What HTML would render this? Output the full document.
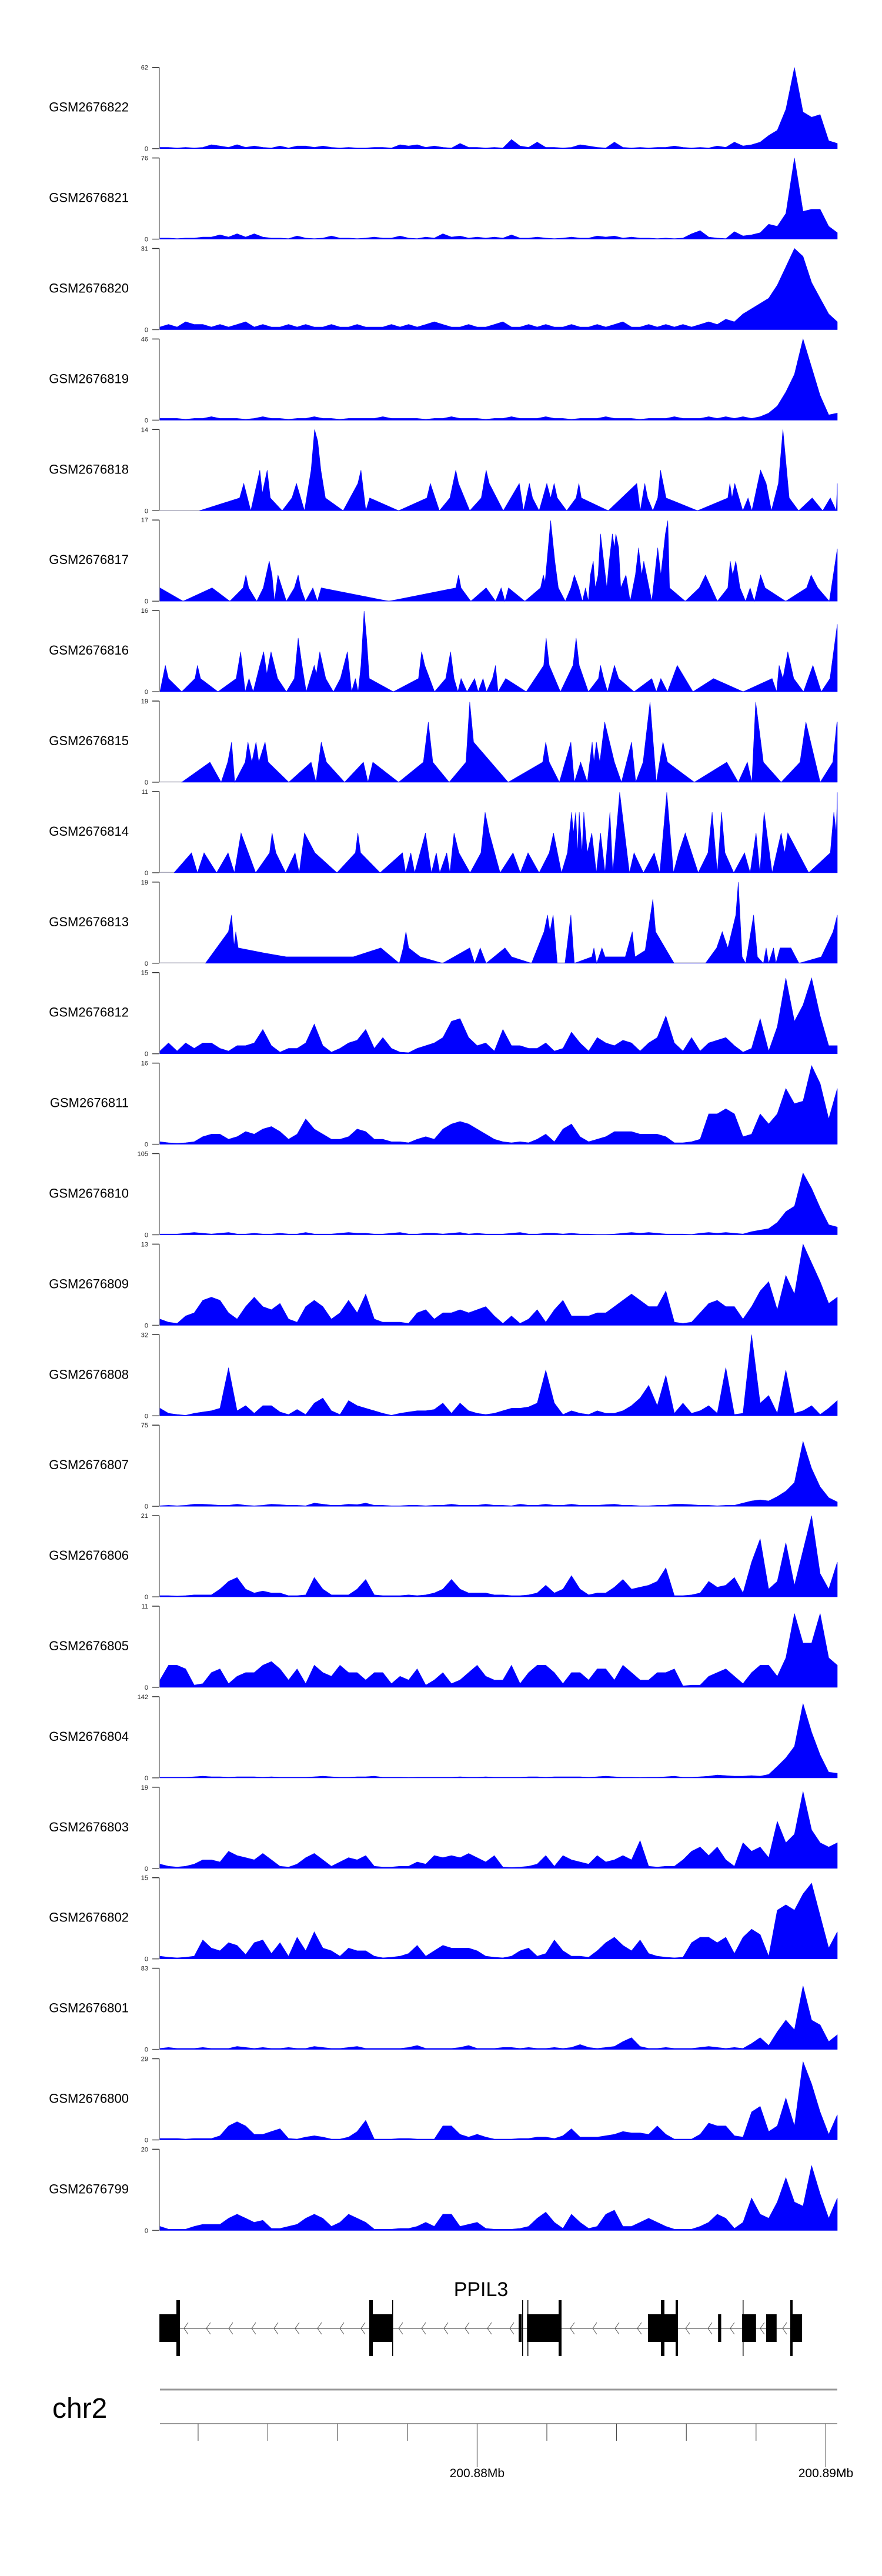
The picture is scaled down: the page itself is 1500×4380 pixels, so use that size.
<!DOCTYPE html>
<html><head><meta charset="utf-8"><title>Coverage tracks PPIL3</title>
<style>
html,body{margin:0;padding:0;background:#fff;}
svg{display:block;font-family:"Liberation Sans",Arial,sans-serif;}
</style></head>
<body>
<svg id="chart" width="1500" height="4380" viewBox="0 0 1500 4380" xmlns="http://www.w3.org/2000/svg">
<g id="tracks"></g>
<g id="gene">
  <text x="818" y="3904" font-size="34" text-anchor="middle" fill="#000">PPIL3</text>
</g>
<g id="axis">
  <text x="89" y="4111" font-size="48" fill="#000">chr2</text>
</g>
</svg>
<script>
// ---- categories / tick labels ----
const trackNames = ["GSM2676822","GSM2676821","GSM2676820","GSM2676819","GSM2676818","GSM2676817","GSM2676816","GSM2676815","GSM2676814","GSM2676813","GSM2676812","GSM2676811","GSM2676810","GSM2676809","GSM2676808","GSM2676807","GSM2676806","GSM2676805","GSM2676804","GSM2676803","GSM2676802","GSM2676801","GSM2676800","GSM2676799"];
const trackMax = [62,76,31,46,14,17,16,19,11,19,15,16,105,13,32,75,21,11,142,19,15,83,29,20];
const windowKb = [0.905, 20.33]; // kb relative to chr2:200,870,000
const axisTickKb = [2,4,6,8,10,12,14,16,18,20];
const axisLabelKb = [10,20];
const axisLabels = ["200.88Mb","200.89Mb"];

// ---- dense series (regular grid of 80 bins) ----
const v822 = [1,1,0.5,1,0.5,1,3,2,1,3,1,2,1,0.5,2,0.5,2,2,1,2,1,0.5,1,0.5,0.5,1,1,0.5,3,2,3,1,2,1,0.5,4,1,1,0.5,1,0.5,7,2,1,5,1,1,0.5,1,3,2,1,0.5,5,1,0.5,1,0.5,1,1,2,1,0.5,1,0.5,2,1,5,2,3,5,10,14,30,62,28,24,26,6,4];
const v821 = [1,1,0.5,1,1,2,2,4,2,5,2,5,2,1,1,0.5,3,1,0.5,1,3,1,1,0.5,1,2,1,1,3,1,0.5,2,1,5,2,3,1,2,1,2,1,4,1,1,2,1,0.5,1,2,1,1,3,2,3,1,2,1,1,0.5,1,0.5,1,5,8,2,1,0.5,7,3,4,6,14,12,24,76,26,28,28,12,6];
const v820 = [1,2,1,3,2,2,1,2,1,2,3,1,2,1,1,2,1,2,1,1,2,1,1,2,1,1,1,2,1,2,1,2,3,2,1,1,2,1,1,2,3,1,1,2,1,2,1,1,2,1,1,2,1,2,3,1,1,2,1,2,1,2,1,2,3,2,4,3,6,8,10,12,17,24,31,28,18,12,6,3];
const v819 = [1,1,1,0.5,1,1,2,1,1,1,0.5,1,2,1,1,0.5,1,1,2,1,1,0.5,1,1,1,1,2,1,1,1,1,0.5,1,1,2,1,1,1,0.5,1,1,2,1,1,1,2,1,1,0.5,1,1,1,2,1,1,1,0.5,1,1,1,2,1,1,1,2,1,2,1,2,1,2,4,8,16,26,46,30,14,3,4];
const v812 = [0.5,2,0.5,2,1,2,2,1,0.5,1.5,1.5,2,4.5,1.5,0.3,1,1,2,5.5,1.5,0.3,1,2,2.5,4.5,1,3,1,0.3,0.2,1,1.5,2,3,6,6.5,3,1.5,2,0.5,4.5,1.5,1.5,1,1,2,0.5,1,4,2,0.5,3,2,1.5,2.5,2,0.5,2,3,7,2,0.5,3,0.5,2,2.5,3,1.5,0.3,1,6.5,0.5,5,14,6,9,14,7,1.5,1.5];
const v811 = [0.5,0.3,0.2,0.3,0.5,1.5,2,2,1,1.5,2.5,2,3,3.5,2.5,1,2,5,3,2,1,1,1.5,3,2.5,1,1,0.5,0.5,0.3,1,1.5,1,3,4,4.5,4,3,2,1,0.5,0.3,0.5,0.3,1,2,0.5,3,4,1.5,0.5,1,1.5,2.5,2.5,2.5,2,2,2,1.5,0.3,0.3,0.5,1,6,6,7,6,1.5,2,6,4,6,11,8,8.5,15.5,12,5,11];
const v810 = [1,1,1,2,3,2,1,2,3,1,1,2,1,1,2,1,1,3,1,1,1,2,3,2,2,1,1,2,3,1,1,2,2,1,2,3,1,2,1,1,1,2,3,1,1,2,2,1,2,1,1,0.5,0.5,1,2,3,2,3,2,1,1,1,0.5,2,3,2,3,2,1,4,6,8,16,30,37,80,60,35,13,10];
const v809 = [1,0.5,0.3,1.5,2,4,4.5,4,2,1,3,4.5,3,2.5,3.5,1,0.5,3,4,3,1,2,4,2,5,1,0.5,0.5,0.5,0.3,2,2.5,1,2,2,2.5,2,2.5,3,1.5,0.3,1.5,0.3,1,2.5,0.5,2.5,4,1.5,1.5,1.5,2,2,3,4,5,4,3,3,5.5,0.5,0.3,0.5,2,3.5,4,3,3,1,3,5.5,7,2.5,8,5,13,10,7,3.5,4.5];
const v808 = [3,1,0.5,0.2,1,1.5,2,3,19,2,4,1,4,4,1.5,0.5,2.5,0.5,5,7,2,0.5,6,4,3,2,1,0.2,1,1.5,2,2,2.5,5,1,5,2,1,0.5,1,2,3,3,3.5,5,18,5,0.5,2,1,0.5,2,1,1,2,4,7,12,4,16,1,5,1,2,4,1,19,0.5,1,32,5,8,1,18,1,2,4,0.5,3,6];
const v807 = [0.5,1,0.5,1,2,2,1.5,1,1,2,1,0.5,1,2,1.5,1,1,0.5,3,2,1,1,2,1.5,3,1,1,0.5,0.5,1,1,0.5,1,1,2,1,1,1,2,1,1,0.5,2,1,1,2,1,1,2,1,1,1,1.5,2,1,1,0.5,0.5,1,1,2,2,1.5,1,1,0.5,1,1,3,5,6,5,9,14,22,60,35,18,8,4];
const v806 = [0.3,0.3,0.2,0.3,0.5,0.5,0.5,2,4,5,2,1,1.5,1,1,0.3,0.3,0.5,5,2,0.5,0.5,0.5,2,4.5,0.5,0.3,0.3,0.3,0.5,0.3,0.5,1,2,4.5,2,1,1,1,0.5,0.5,0.3,0.3,0.5,1,3,1,2,5.5,2,0.5,1,1,2.5,4.5,2,2.5,3,4,7.5,0.3,0.3,0.5,1,4,2.5,3,5,1,9,15,2,4,14,3,12,21,6,2,9];
const v805 = [1,3,3,2.5,0.3,0.5,2,2.5,0.5,1.5,2,2,3,3.5,2.5,1,2.5,0.5,3,2,1.5,3,2,2,1,2,2,0.5,1.5,1,2.5,0.3,1,2,0.5,1,2,3,1.5,1,1,3,0.5,2,3,3,2,0.5,2,2,1,2.5,2.5,1,3,2,1,1,2,2,2.5,0.2,0.3,0.3,1.5,2,2.5,1.5,0.5,2,3,3,1.5,4,10,6,6,10,4,3];
const v804 = [1,1,1,1,2,3,2,2,1,2,2,2,1,2,1,1,1,1,2,3,2,1,1,2,2,3,1,1,1,0.5,1,1,1,1,1,2,1,1,2,1,1,1,1,2,2,1,2,2,2,2,1,2,3,2,1,1,0.5,1,1,2,3,1,1,2,3,5,4,3,3,4,3,6,20,35,55,130,80,40,10,8];
const v803 = [1,0.5,0.3,0.5,1,2,2,1.5,4,3,2.5,2,3.5,2,0.5,0.3,1,2.5,3.5,2,0.5,1.5,2.5,2,3,0.5,0.3,0.3,0.5,0.5,1.5,1,3,2.5,3,2.5,3.5,2.5,1.5,3,0.3,0.2,0.3,0.5,1,3,0.5,3,2,1.5,1,3,1.5,2,3,2,6.5,0.5,0.3,0.5,0.5,2,4,5,3,5,2,0.5,6,4,5,2.5,11,6,8,18,9,6,5,6];
const v802 = [0.5,0.3,0.2,0.3,0.5,3.5,2,1.5,3,2.5,0.8,3,3.5,1,3,0.5,4,1.5,5,2,1.5,0.5,2,1.5,1.5,0.5,0.2,0.3,0.5,1,2.5,0.5,1.5,2.5,2,2,2,1.5,0.5,0.3,0.2,0.5,1.5,2,0.5,1,3.5,1.5,0.5,0.5,0.3,1.5,3,4,2.5,1.5,3.5,1,0.5,0.3,0.2,0.3,3,4,4,3,4,1,4,5.5,4.5,0.5,9,10,9,12,14,8,2,5];
const v801 = [1,2,1,1,1,2,1,1,1,3,2,1,2,1,1,2,1,1,3,2,1,1,2,3,1,1,1,1,1,2,4,1,1,1,1,2,4,1,1,1,2,2,1,2,1,1,2,1,2,5,2,1,2,3,8,12,3,1,1,2,1,1,1,2,3,2,1,2,1,6,12,4,18,30,20,65,30,25,8,15];
const v800 = [0.5,0.5,0.5,0.3,0.5,0.5,0.5,1.5,5,6.5,5,2,2,3,4,0.5,0.3,1,1.5,1,0.3,0.3,1,3,7,0.3,0.3,0.3,0.5,0.5,0.3,0.3,0.3,5,5,2,1,2,1,0.3,0.3,0.3,0.5,0.5,1,1,0.5,1.5,4,1,1,1,1.5,2,3,2.5,2.5,2,5,2,0.3,0.3,0.3,2,6,5,5,1.5,1,10,12,3,5,15,5,28,20,10,2,9];
const v799 = [1,0.3,0.3,0.3,1,1.5,1.5,1.5,3,4,3,2,2.5,0.5,0.5,1,1.5,3,4,3,1,2,4,3,2,0.3,0.3,0.3,0.5,0.5,1,2,1,4,4,1,1.5,2,0.5,0.3,0.3,0.3,0.5,1,3,4.5,2,0.5,4,2,0.5,1,4,5,1,1,2,3,2,1,0.3,0.3,0.3,1,2,4,3,0.5,2,8,4,3,7,13,7,6,16,9,3,8];

// ---- sparse series (genomic position in kb, value) ----
const p818 = [2.04,3.19,3.31,3.51,3.77,3.84,3.98,4.07,4.41,4.69,4.82,5.05,5.24,5.34,5.43,5.52,5.65,6.16,6.58,6.67,6.81,6.92,7.75,8.56,8.66,8.92,9.22,9.39,9.47,9.79,10.12,10.26,10.35,10.75,11.21,11.33,11.50,11.59,11.78,12.0,12.11,12.21,12.30,12.57,12.84,12.92,12.99,13.76,14.58,14.68,14.81,14.89,15.04,15.18,15.26,15.42,16.32,17.19,17.25,17.31,17.39,17.62,17.77,17.88,18.13,18.29,18.44,18.64,18.77,18.95,19.22,19.61,19.91,20.13,20.30,20.33];
const v818 = [0,2.2,4.7,0,7,3,7,2.2,0,2.2,4.7,0,7,14,12,7,2.2,0,4.7,7,0,2.2,0,2.2,4.7,0,2.2,7,4.7,0,2.2,7,4.7,0,4.7,0,4.7,2.2,0,4.7,2.2,4.7,2.2,0,2.2,4.7,2.2,0,4.7,0,4.7,2.2,0,2.2,7,2.2,0,2.2,4.7,2.2,4.7,0,2.2,0,7,4.7,0,4.7,14,2.2,0,2.2,0,2.2,0,4.7];
const p817 = [0.905,1.57,2.40,2.91,3.29,3.37,3.45,3.68,3.87,4.04,4.12,4.19,4.29,4.53,4.76,4.87,4.94,5.08,5.29,5.42,5.53,7.47,9.39,9.47,9.54,9.82,10.26,10.53,10.69,10.80,10.90,11.37,11.82,11.90,11.95,12.11,12.23,12.33,12.53,12.69,12.79,12.92,13.02,13.11,13.19,13.25,13.33,13.39,13.47,13.54,13.63,13.72,13.79,13.88,13.94,13.98,14.06,14.12,14.27,14.39,14.54,14.63,14.72,14.78,15.01,15.18,15.27,15.40,15.47,15.52,15.97,16.37,16.55,16.89,17.19,17.26,17.33,17.42,17.54,17.70,17.83,17.95,18.13,18.26,18.85,19.45,19.58,19.77,20.10,20.33];
const v817 = [2.8,0,2.8,0,2.8,5.5,2.8,0,2.8,8.4,5.5,0,5.5,0,2.8,5.5,2.8,0,2.8,0,2.8,0,2.8,5.5,2.8,0,2.8,0,2.8,0,2.8,0,2.8,5.5,4,16.9,8.4,2.8,0,2.8,5.5,2.8,0,2.8,0,5.5,8.4,2.8,5.5,14.1,8.4,2.8,8.4,14.1,11.2,14.1,11.2,2.8,5.5,0,5.5,11.2,5.5,8.4,0,11.2,5.5,14.1,16.9,2.8,0,2.8,5.5,0,2.8,8.4,5.5,8.4,2.8,0,2.8,0,5.5,2.8,0,2.8,5.5,2.8,0,11];
const p816 = [0.905,1.06,1.15,1.53,1.91,1.98,2.07,2.57,3.09,3.22,3.35,3.46,3.58,3.77,3.88,3.97,4.09,4.28,4.53,4.76,4.87,4.98,5.10,5.33,5.39,5.49,5.66,5.88,6.08,6.28,6.40,6.51,6.59,6.67,6.76,6.83,6.91,7.60,8.32,8.41,8.50,8.78,9.10,9.24,9.34,9.45,9.54,9.71,9.93,10.03,10.17,10.27,10.44,10.53,10.60,10.82,11.41,11.91,11.98,12.07,12.39,12.75,12.84,12.93,13.19,13.48,13.54,13.63,13.74,13.94,14.06,14.50,15.01,15.14,15.27,15.46,15.74,16.19,16.78,17.63,18.46,18.59,18.66,18.77,18.91,19.08,19.36,19.63,19.87,20.12,20.33];
const v816 = [0,5.2,2.6,0,2.6,5.2,2.6,0,2.6,7.9,0,2.6,0,5.2,7.9,3.5,7.9,2.6,0,2.6,10.6,5.2,0,5.2,3.5,7.9,2.6,0,2.6,7.9,0,2.6,0,5.2,15.9,10.6,2.6,0,2.6,7.9,5.2,0,2.6,7.9,2.6,0,2.6,0,2.6,0,2.6,0,2.6,5.2,0,2.6,0,5.2,10.6,5.2,0,5.2,10.6,5.2,0,2.6,5.2,2.6,0,5.2,2.6,0,2.6,0,2.6,0,5.2,0,2.6,0,2.6,0,5.2,2.6,7.9,2.6,0,5.2,0,2.6,13.3];
const p815 = [1.53,2.34,2.66,2.85,2.96,3.05,3.35,3.43,3.54,3.66,3.74,3.92,4.01,4.60,5.24,5.38,5.53,5.68,6.20,6.74,6.87,7.01,7.75,8.46,8.60,8.73,9.20,9.68,9.79,9.90,10.89,11.88,11.97,12.07,12.36,12.69,12.79,12.97,13.16,13.30,13.35,13.42,13.52,13.66,13.94,14.14,14.43,14.55,14.76,14.96,15.14,15.33,15.46,16.23,17.16,17.49,17.75,17.88,17.99,18.21,18.72,19.26,19.43,19.84,20.20,20.32,20.33];
const v815 = [0,4.7,0,4.7,9.4,0,4.7,9.4,4.7,9.4,4.7,9.4,4.7,0,4.7,0,9.4,4.7,0,4.7,0,4.7,0,4.7,14.1,4.7,0,4.7,18.8,9.4,0,4.7,9.4,4.7,0,9.4,0,4.7,0,9.4,4.7,9.4,4.7,14.1,4.7,0,9.4,0,4.7,18.8,0,9.4,4.7,0,4.7,0,4.7,0,18.8,4.7,0,4.7,14.1,0,4.7,14.1,14.1];
const p814 = [1.31,1.81,1.98,2.17,2.53,2.86,3.04,3.23,3.65,4.05,4.12,4.23,4.51,4.78,4.90,5.05,5.35,5.98,6.51,6.58,6.66,7.22,7.86,7.95,8.10,8.21,8.52,8.69,8.83,8.93,9.13,9.22,9.34,9.48,9.80,10.11,10.23,10.35,10.66,11.03,11.24,11.46,11.78,12.07,12.19,12.42,12.59,12.71,12.76,12.83,12.88,12.93,13.01,13.06,13.16,13.29,13.42,13.54,13.67,13.81,13.89,14.09,14.37,14.50,14.77,15.08,15.24,15.44,15.63,15.78,15.97,16.34,16.62,16.74,16.89,17.01,17.11,17.36,17.67,17.83,18.00,18.11,18.23,18.46,18.72,18.82,18.91,19.51,20.13,20.23,20.30,20.33];
const v814 = [0,2.7,0,2.7,0,2.7,0,5.4,0,2.7,5.4,2.7,0,2.7,0,5.4,2.7,0,2.7,5.4,2.7,0,2.7,0,2.7,0,5.4,0,2.7,0,2.7,0,5.4,2.7,0,2.7,8.2,5.4,0,2.7,0,2.7,0,2.7,5.4,0,2.7,8.2,5.4,8.2,2.7,8.2,2.7,8.2,2.7,5.4,0,5.4,0,8.2,0,10.9,0,2.7,0,2.7,0,10.9,0,2.7,5.4,0,2.7,8.2,0,8.2,2.7,0,2.7,0,5.4,0,8.2,0,5.4,2.7,5.4,0,2.7,8.2,5.4,10.9];
const p813 = [2.21,2.87,2.96,3.03,3.08,3.15,3.90,4.53,6.45,7.24,7.77,7.88,7.96,8.04,8.37,9.01,9.79,9.93,10.09,10.26,10.80,10.99,11.56,11.92,12.02,12.09,12.18,12.30,12.52,12.69,12.79,13.29,13.35,13.43,13.58,13.67,14.25,14.45,14.53,14.82,15.04,15.12,15.65,16.55,16.87,17.03,17.19,17.42,17.49,17.60,17.70,17.93,18.04,18.21,18.29,18.36,18.50,18.57,18.69,19.00,19.23,19.87,20.21,20.33];
const v813 = [0,7.4,11.3,4,7.4,3.6,2.4,1.5,1.5,3.6,0,3.6,7.4,3.6,1.5,0,3.6,0,3.6,0,3.6,1.5,0,7.4,11.3,7.4,11.3,0,0,11.3,0,1.5,3.6,0,3.6,1.5,1.5,7.4,1.5,3,15,7.4,0,0,3.6,7.4,3.6,11.3,19,1.5,0,11.3,1.5,0,3.6,0,3.6,0,3.6,3.6,0,1.5,7.4,11.3];

const seriesPos = [null,null,null,null,p818,p817,p816,p815,p814,p813,null,null,null,null,null,null,null,null,null,null,null,null,null,null];
const seriesVal = [v822,v821,v820,v819,v818,v817,v816,v815,v814,v813,v812,v811,v810,v809,v808,v807,v806,v805,v804,v803,v802,v801,v800,v799];

// ---- gene model (kb) ----
const exonStartKb = [0.89,6.91,11.19,11.43,14.90,16.91,17.60,18.29,18.98];
const exonEndKb   = [1.48,7.58,11.28,12.42,15.74,17.00,18.00,18.59,19.32];

// ---- layout ----
const X0 = 272, X1 = 1424, AXIS_X = 271;
const TOP0 = 114.7, PITCH = 153.9, TH = 138;
const NS = "http://www.w3.org/2000/svg";
function xScale(kb){ return X0 + (kb - windowKb[0]) / (windowKb[1] - windowKb[0]) * (X1 - X0); }
function mk(tag, attrs, parent){ const e = document.createElementNS(NS, tag); for (const k in attrs) e.setAttribute(k, attrs[k]); parent.appendChild(e); return e; }

const tracksG = document.getElementById('tracks');
trackNames.forEach((name, i) => {
  const top = TOP0 + i * PITCH, zero = top + TH;
  const g = mk('g', {}, tracksG);
  
  
  const lab = mk('text', {x: 219, y: (top + 75).toFixed(1), 'font-size': 22, 'text-anchor': 'end', fill: '#000'}, g);
  lab.textContent = name;
  
  
  const ax = mk('line', {x1: AXIS_X, x2: AXIS_X, y1: top, y2: zero, stroke: '#999', 'stroke-width': 2}, g);
  
  
  const t1 = mk('line', {x1: 259, x2: AXIS_X, y1: top, y2: top, stroke: '#333', 'stroke-width': 1.5}, g);
  
  
  const t0 = mk('line', {x1: 259, x2: AXIS_X, y1: zero, y2: zero, stroke: '#555', 'stroke-width': 1.5}, g);
  
  
  const l1 = mk('text', {x: 252, y: (top + 4).toFixed(1), 'font-size': 11, 'text-anchor': 'end', fill: '#222'}, g);
  l1.textContent = String(trackMax[i]);
  
  
  const l0 = mk('text', {x: 252, y: (zero + 4).toFixed(1), 'font-size': 11, 'text-anchor': 'end', fill: '#222'}, g);
  l0.textContent = '0';
  
  
  const base = mk('line', {x1: X0, x2: X1, y1: zero - 0.5, y2: zero - 0.5, stroke: '#aab', 'stroke-width': 1.5}, g);
  
  
  const vals = seriesVal[i];
  const pos = seriesPos[i] || vals.map((_, k) => windowKb[0] + k * (windowKb[1] - windowKb[0]) / (vals.length - 1));
  const yS = v => zero - Math.min(v, trackMax[i]) / trackMax[i] * TH;
  let d = 'M' + xScale(pos[0]).toFixed(1) + ',' + zero;
  for (let k = 0; k < vals.length; k++) d += 'L' + xScale(pos[k]).toFixed(1) + ',' + yS(vals[k]).toFixed(1);
  d += 'L' + xScale(pos[pos.length - 1]).toFixed(1) + ',' + zero + 'Z';
  const area = mk('path', {d: d, fill: '#0000ff', stroke: '#0000ff', 'stroke-width': 0.6}, g);
  
  
});

// gene model
const geneG = document.getElementById('gene');
const GY = 3959;
const intron = mk('line', {x1: xScale(exonEndKb[0]), x2: xScale(exonStartKb[exonStartKb.length-1]), y1: GY, y2: GY, stroke: '#333', 'stroke-width': 1}, geneG);


const chevronX = [316,354,392,431,469,505,543,581,617,681,720,758,794,832,870,973,1011,1049,1087,1169,1207,1245,1296,1334];
chevronX.forEach(x => {
  const c = mk('polyline', {points: (x+4)+','+(GY-10)+' '+(x-3)+','+GY+' '+(x+4)+','+(GY+10), fill: 'none', stroke: '#555', 'stroke-width': 1}, geneG);
  
  
});
exonStartKb.forEach((s, k) => {
  const x = xScale(s), w = Math.max(4, xScale(exonEndKb[k]) - x);
  const r = mk('rect', {x: x.toFixed(1), y: 3935, width: w.toFixed(1), height: 47, fill: '#000'}, geneG);
  
  
});
const tallBars = [[300,6],[628,6],[667,1.5],[888,1.5],[897,1.5],[950,5],[1124,6],[1149,4],[1263,1.5],[1344,4]];
tallBars.forEach(b => {
  const r = mk('rect', {x: b[0], y: 3911, width: b[1], height: 95, fill: '#000'}, geneG);
  
  
});

// genome axis
const axG = document.getElementById('axis');
const a1 = mk('line', {x1: X0, x2: X1, y1: 4063, y2: 4063, stroke: '#999', 'stroke-width': 3}, axG);


const a2 = mk('line', {x1: X0, x2: X1, y1: 4121, y2: 4121, stroke: '#999', 'stroke-width': 2}, axG);


axisTickKb.forEach(kb => {
  const x = xScale(kb);
  const major = axisLabelKb.indexOf(kb) >= 0;
  const t = mk('line', {x1: x, x2: x, y1: 4121, y2: major ? 4195 : 4150, stroke: '#333', 'stroke-width': 1}, axG);
  
  
});
axisLabelKb.forEach((kb, k) => {
  const t = mk('text', {x: xScale(kb), y: 4212, 'font-size': 21, 'text-anchor': 'middle', fill: '#000'}, axG);
  t.textContent = axisLabels[k];
  
  
});
</script>
</body></html>
